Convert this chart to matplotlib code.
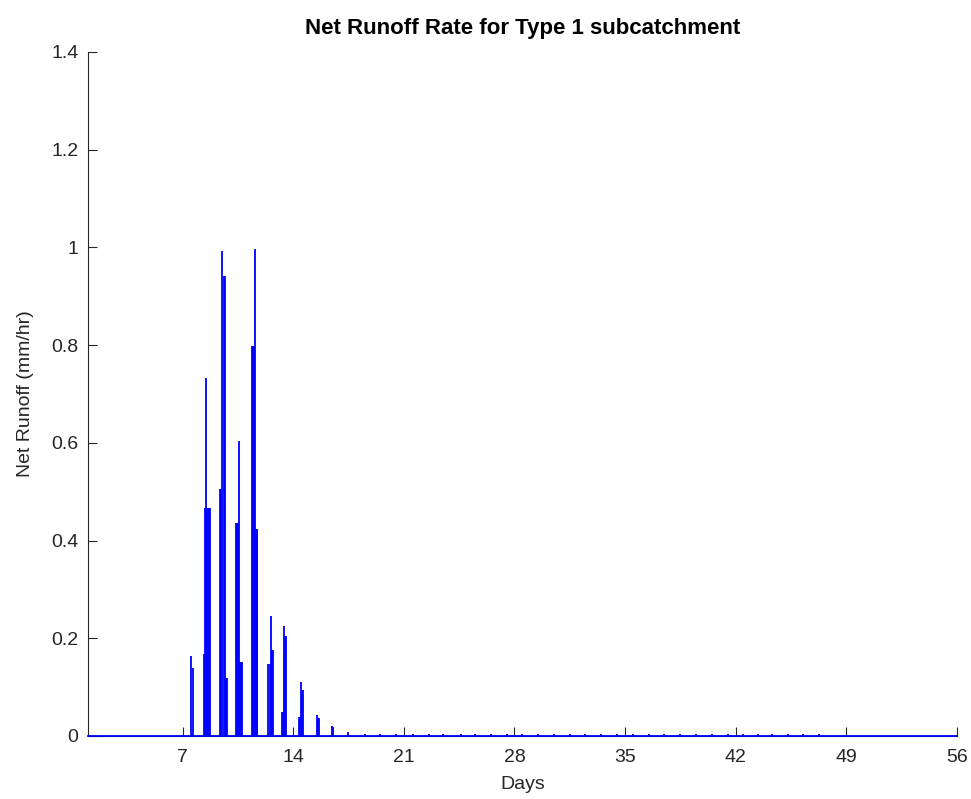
import matplotlib
matplotlib.use("Agg")
import matplotlib.pyplot as plt

plt.rcParams['font.family'] = ['Liberation Sans', 'DejaVu Sans']

# Simulation window (days)
t_start = 1.0
t_end = 56.0

# Runoff pulses: time (days) and net runoff rate (mm/hr)
pulse_day = [
    7.53, 7.63,
    8.37, 8.43, 8.49, 8.55, 8.61, 8.67, 8.72,
    9.37, 9.43, 9.51, 9.60, 9.66, 9.72, 9.78,
    10.38, 10.44, 10.50, 10.57, 10.63, 10.69, 10.74,
    11.37, 11.43, 11.49, 11.56, 11.62, 11.68, 11.73,
    12.43, 12.50, 12.58, 12.64, 12.70,
    13.31, 13.37, 13.44, 13.50, 13.56,
    14.33, 14.40, 14.48, 14.55, 14.61,
    15.49, 15.56, 15.62,
    16.45, 16.52,
    17.45,
    18.55, 19.50, 20.50, 21.58, 22.60, 23.50, 24.60, 25.50, 26.50, 27.50,
    28.50, 29.50, 30.50, 31.50, 32.50, 33.50, 34.50, 35.50, 36.50, 37.50,
    38.50, 39.50, 40.50, 41.50, 42.50, 43.40, 44.30, 45.30, 46.30, 47.30,
]
pulse_val = [
    0.164, 0.139,
    0.168, 0.467, 0.733, 0.467, 0.467, 0.467, 0.467,
    0.505, 0.505, 0.993, 0.942, 0.942, 0.119, 0.119,
    0.435, 0.435, 0.435, 0.603, 0.152, 0.152, 0.152,
    0.799, 0.799, 0.799, 0.996, 0.423, 0.423, 0.423,
    0.147, 0.147, 0.246, 0.176, 0.176,
    0.050, 0.050, 0.226, 0.205, 0.205,
    0.038, 0.038, 0.111, 0.094, 0.094,
    0.042, 0.036, 0.036,
    0.020, 0.018,
    0.008,
    0.005, 0.005, 0.005, 0.005, 0.005, 0.005, 0.005, 0.005, 0.005, 0.005,
    0.005, 0.005, 0.005, 0.005, 0.005, 0.005, 0.005, 0.005, 0.005, 0.005,
    0.005, 0.005, 0.005, 0.005, 0.005, 0.005, 0.005, 0.005, 0.005, 0.005,
]

x_ticks = [7, 14, 21, 28, 35, 42, 49, 56]
y_ticks = [0, 0.2, 0.4, 0.6, 0.8, 1.0, 1.2, 1.4]
y_tick_labels = ['0', '0.2', '0.4', '0.6', '0.8', '1', '1.2', '1.4']

axis_color = '#262626'
line_color = '#0000ff'

fig = plt.figure(figsize=(9.71, 7.99), dpi=100)
ax = fig.add_axes([0.0906, 0.0789, 0.8946, 0.8561])

ax.vlines(pulse_day, 0, pulse_val, colors=line_color, linewidth=1.3, zorder=3)
ax.plot([t_start, t_end], [0, 0], color=line_color, linewidth=1.3,
        zorder=4, clip_on=False)

ax.set_xlim(t_start, t_end)
ax.set_ylim(0, 1.4)
ax.set_xticks(x_ticks)
ax.set_xticklabels([str(v) for v in x_ticks])
ax.set_yticks(y_ticks)
ax.set_yticklabels(y_tick_labels)

for side in ('top', 'right'):
    ax.spines[side].set_visible(False)
for side in ('left', 'bottom'):
    ax.spines[side].set_color(axis_color)
    ax.spines[side].set_linewidth(0.8)

ax.tick_params(axis='both', direction='in', length=6.5, width=0.8,
               color=axis_color, labelcolor=axis_color, labelsize=14)
ax.tick_params(axis='y', pad=7)
ax.tick_params(axis='x', pad=9.5)

ax.set_title('Net Runoff Rate for Type 1 subcatchment', fontsize=16,
             fontweight='bold', color='black', pad=13)
ax.set_xlabel('Days', fontsize=14, color=axis_color, labelpad=7)
ax.set_ylabel('Net Runoff (mm/hr)', fontsize=14, color=axis_color, labelpad=12)

fig.savefig('out.png', dpi=100, facecolor='white')
